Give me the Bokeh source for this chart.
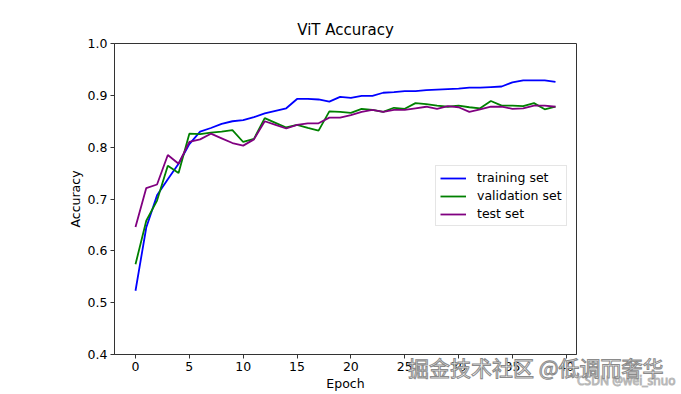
from bokeh.plotting import figure
from bokeh.models import Range1d, FixedTicker, Legend, LegendItem
from bokeh.core.properties import value
from bokeh.embed import file_html
from bokeh.resources import INLINE

epochs = list(range(40))
train_acc = [0.523, 0.645, 0.707, 0.738, 0.768, 0.806, 0.830, 0.837, 0.845, 0.850,
             0.852, 0.858, 0.865, 0.870, 0.875, 0.893, 0.893, 0.892, 0.888, 0.897,
             0.895, 0.899, 0.899, 0.905, 0.906, 0.908, 0.908, 0.910, 0.911, 0.912,
             0.913, 0.915, 0.915, 0.916, 0.917, 0.925, 0.929, 0.929, 0.929, 0.926]
val_acc = [0.574, 0.658, 0.697, 0.764, 0.750, 0.826, 0.825, 0.828, 0.830, 0.833,
           0.810, 0.816, 0.856, 0.847, 0.838, 0.843, 0.837, 0.832, 0.869, 0.868,
           0.866, 0.874, 0.872, 0.868, 0.876, 0.874, 0.885, 0.883, 0.880, 0.878,
           0.880, 0.877, 0.875, 0.889, 0.880, 0.880, 0.879, 0.885, 0.873, 0.878]
test_acc = [0.646, 0.721, 0.728, 0.785, 0.768, 0.810, 0.815, 0.826, 0.817, 0.808,
            0.803, 0.815, 0.850, 0.843, 0.836, 0.843, 0.846, 0.846, 0.857, 0.857,
            0.862, 0.868, 0.872, 0.868, 0.872, 0.872, 0.875, 0.878, 0.874, 0.879,
            0.877, 0.868, 0.873, 0.878, 0.878, 0.874, 0.875, 0.880, 0.880, 0.878]
series_names = ["training set", "validation set", "test set"]
series_colors = ["blue", "green", "purple"]
x_ticks = [0, 5, 10, 15, 20, 25, 30, 35, 40]
y_ticks = [0.4, 0.5, 0.6, 0.7, 0.8, 0.9, 1.0]
title_text = "ViT Accuracy"
x_label = "Epoch"
y_label = "Accuracy"
watermark = ["掘金技术社区 @低调而奢华"]
watermark2 = ["CSDN @wei_shuo"]

FONT = "DejaVu Sans"
AX = "#333333"

p = figure(width=681, height=394, output_backend="svg", toolbar_location=None,
           x_range=Range1d(-1.95, 40.95), y_range=Range1d(0.4, 1.0),
           min_border_left=114, min_border_right=105, min_border_top=43,
           min_border_bottom=40)
p.background_fill_color = "white"
p.border_fill_color = "white"
p.outline_line_color = AX
p.outline_line_width = 1
p.xgrid.visible = False
p.ygrid.visible = False

p.title.text = title_text
p.title.align = "center"
p.title.text_font = FONT
p.title.text_font_size = "15px"
p.title.text_font_style = "normal"
p.title.text_color = "black"

for ax in (p.xaxis[0], p.yaxis[0]):
    ax.axis_line_color = AX
    ax.major_tick_line_color = AX
    ax.minor_tick_line_color = None
    ax.major_tick_out = 4
    ax.major_tick_in = 0
    ax.major_label_text_font = FONT
    ax.major_label_text_font_size = "12.5px"
    ax.major_label_text_color = "black"
    ax.major_label_standoff = 3
    ax.axis_label_text_font = FONT
    ax.axis_label_text_font_size = "12.5px"
    ax.axis_label_text_font_style = "normal"
    ax.axis_label_text_color = "black"
    ax.axis_label_standoff = 2

p.xaxis.ticker = FixedTicker(ticks=x_ticks)
p.yaxis.ticker = FixedTicker(ticks=y_ticks)
p.yaxis.major_label_overrides = {v: f"{v:.1f}" for v in y_ticks}
p.xaxis.axis_label = x_label
p.yaxis.axis_label = y_label

items = []
for name, col, ys in zip(series_names, series_colors, [train_acc, val_acc, test_acc]):
    r = p.line(epochs, ys, line_color=col, line_width=1.8)
    items.append(LegendItem(label=name, renderers=[r]))

legend = Legend(items=items, location=(321, 128))
legend.label_text_font = FONT
legend.label_text_font_size = "12.5px"
legend.label_text_color = "black"
legend.glyph_width = 26
legend.glyph_height = 14
legend.label_height = 14
legend.label_standoff = 11
legend.spacing = 3
legend.padding = 4
legend.margin = 0
legend.border_line_color = "#cccccc"
legend.border_line_width = 1
legend.background_fill_color = "white"
legend.background_fill_alpha = 0.8
p.add_layout(legend, "center")

# watermarks (drawn as overlay text glyphs so they may sit below the frame)
p.text(x=[41.0], y=[0.350], text=watermark2, text_font=value("Noto Sans"),
       text_font_size="12px", text_color="#f2f2f2", text_outline_color="#b8b8b8",
       level="overlay", text_align="left", text_baseline="middle")
p.text(x=[25.3], y=[0.375], text=watermark, text_font=value("Noto Sans CJK SC"),
       text_font_size="21px", text_color="white", text_outline_color="#8a8a8a",
       level="overlay", text_align="left", text_baseline="middle")

open("out.html", "w").write(file_html(p, INLINE))
